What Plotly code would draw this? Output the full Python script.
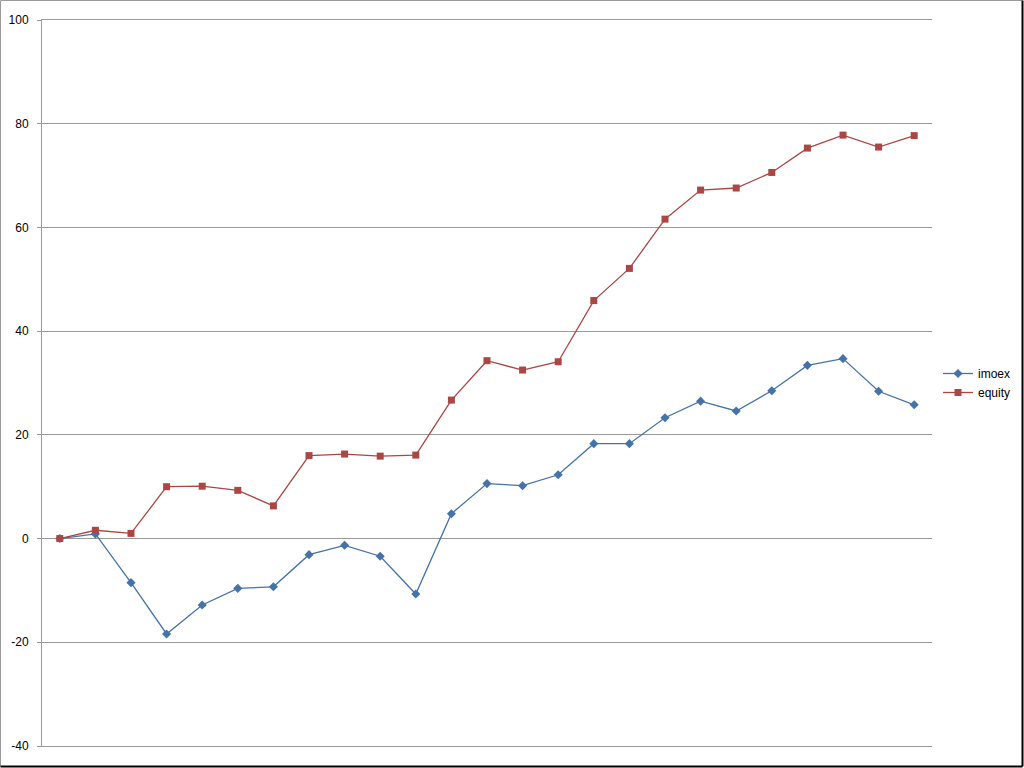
import plotly.graph_objects as go

categories = list(range(1, 26))
imoex = [0, 0.9, -8.5, -18.4, -12.8, -9.6, -9.3, -3.1, -1.3, -3.4, -10.7, 4.8, 10.6,
         10.2, 12.3, 18.3, 18.3, 23.3, 26.5, 24.6, 28.5, 33.4, 34.7, 28.4, 25.8]
equity = [0, 1.6, 1.0, 10.0, 10.1, 9.3, 6.3, 16.0, 16.3, 15.9, 16.1, 26.7, 34.3,
          32.5, 34.1, 45.9, 52.1, 61.6, 67.2, 67.6, 70.6, 75.3, 77.8, 75.5, 77.7]
y_ticks = [-40, -20, 0, 20, 40, 60, 80, 100]

W, H = 1024, 768
ML, MR, MT, MB = 42, 92, 20, 22
pw, ph = W - ML - MR, H - MT - MB

fig = go.Figure()
fig.add_trace(go.Scatter(
    x=categories, y=imoex, name="imoex", mode="lines+markers",
    line=dict(color="#4572A7", width=1.3),
    marker=dict(symbol="diamond", size=7, color="#4572A7"),
))
fig.add_trace(go.Scatter(
    x=categories, y=equity, name="equity", mode="lines+markers",
    line=dict(color="#AA4643", width=1.3),
    marker=dict(symbol="square", size=7, color="#AA4643"),
))

# outer frame
fx0, fx1 = (0.5 - ML) / pw, (W - 1.5 - ML) / pw
fy_top = 1 + (MT - 0.5) / ph
fy_bot = -(MB - 1.5) / ph
shapes = [
    dict(type="line", xref="paper", yref="paper", x0=fx0, x1=fx1, y0=fy_top, y1=fy_top,
         line=dict(color="#999999", width=1)),
    dict(type="line", xref="paper", yref="paper", x0=fx0, x1=fx0, y0=fy_bot, y1=fy_top,
         line=dict(color="#999999", width=1)),
    dict(type="line", xref="paper", yref="paper", x0=fx1, x1=fx1, y0=fy_bot, y1=fy_top,
         line=dict(color="#000000", width=2)),
    dict(type="line", xref="paper", yref="paper", x0=fx0, x1=fx1, y0=fy_bot, y1=fy_bot,
         line=dict(color="#000000", width=2)),
]

fig.update_layout(
    width=W, height=H, autosize=False,
    margin=dict(l=ML, r=MR, t=MT, b=MB, pad=0, autoexpand=False),
    paper_bgcolor="white", plot_bgcolor="white",
    font=dict(family="Liberation Sans, Arial, sans-serif", size=12, color="#000000"),
    showlegend=True,
    legend=dict(x=(938 - ML) / pw, xanchor="left", y=0.5, yanchor="middle",
                font=dict(size=12), itemwidth=30, tracegroupgap=0,
                bgcolor="rgba(0,0,0,0)"),
    xaxis=dict(range=[0.5, 25.5], showticklabels=False, showgrid=False,
               zeroline=False, showline=True, mirror=True, linecolor="#999999",
               linewidth=1, ticks="", automargin=False),
    yaxis=dict(range=[-40, 100], tickvals=y_ticks, ticktext=[str(v) for v in y_ticks],
               showgrid=True, gridcolor="#999999", gridwidth=1, automargin=False,
               zeroline=False, showline=True, linecolor="#999999", linewidth=1,
               ticks="outside", ticklen=4, tickcolor="#999999", ticklabelstandoff=6),
    shapes=shapes,
)

fig.write_html(
    "out.html",
    config={"responsive": False},
    post_script="document.documentElement.style.overflow='hidden';"
                "document.body.style.overflow='hidden';document.body.style.margin='0';",
)
